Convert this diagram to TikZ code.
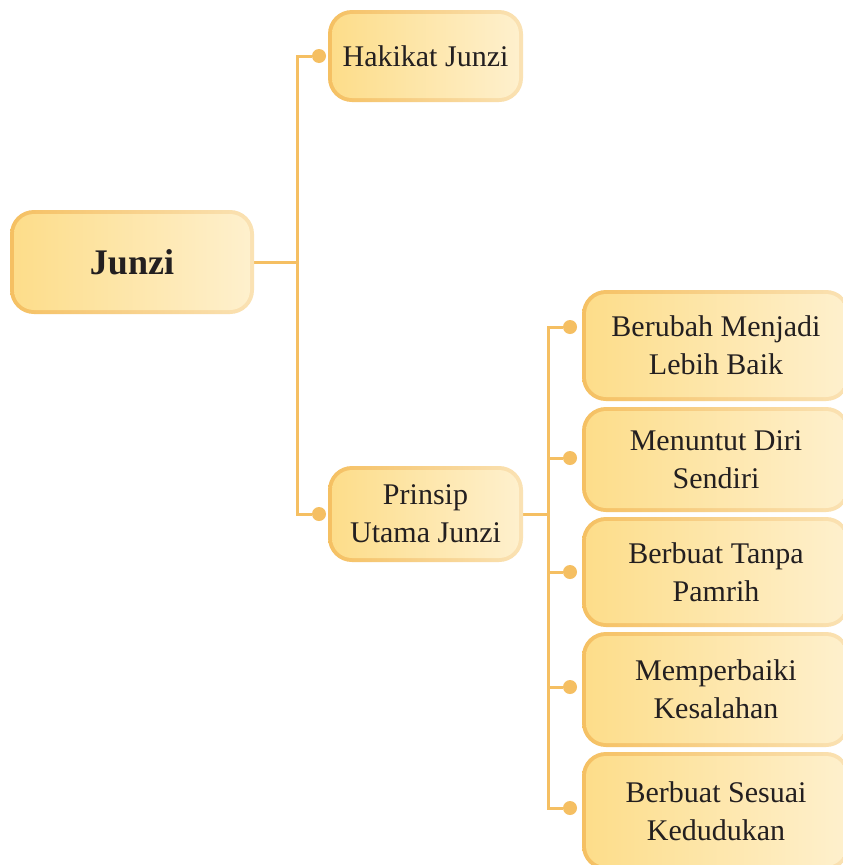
\documentclass[tikz,border=0pt]{standalone}
\usepackage{fontspec}
\setmainfont{Liberation Serif}
\usetikzlibrary{backgrounds,calc}
\definecolor{lineC}{HTML}{F5BF62}
\definecolor{fillL}{HTML}{FDDD8A}
\definecolor{fillM}{HTML}{FDE39F}
\definecolor{fillR}{HTML}{FEF0CD}
\definecolor{bordL}{HTML}{F5C062}
\definecolor{bordM}{HTML}{F7CD80}
\definecolor{bordR}{HTML}{FAE2B4}
\definecolor{txt}{HTML}{231F20}
\tikzset{
  box/.style={rectangle, rounded corners=20pt, inner sep=0pt, outer sep=0pt,
    left color=fillL, middle color=fillM, right color=fillR, text=txt, align=center,
    font=\fontsize{30}{38}\selectfont},
  conn/.style={draw=lineC, line width=3pt},
  dot/.style={circle, fill=lineC, minimum size=14pt, inner sep=0pt},
}
\newcommand\ringbox[1]{\shade[left color=bordL, middle color=bordM, right color=bordR, rounded corners=24pt]
  ($(#1.north west)+(-4,-4)$) rectangle ($(#1.south east)+(4,4)$);}
\begin{document}
\begin{tikzpicture}[x=1pt,y=-1pt]
\useasboundingbox (0,0) rectangle (843,865);
% nodes
\node[box, minimum width=236pt, minimum height=96pt, font=\fontsize{36}{40}\selectfont\bfseries] (junzi) at (132,262) {Junzi};
\node[box, minimum width=187pt, minimum height=84pt] (hak) at (425.5,56) {Hakikat Junzi};
\node[box, minimum width=187pt, minimum height=88pt] (pri) at (425.5,514) {Prinsip\\Utama Junzi};
\node[box, minimum width=260pt, minimum height=103pt] (r1) at (716,345.5) {Berubah Menjadi\\Lebih Baik};
\node[box, minimum width=260pt, minimum height=97pt] (r2) at (716,459.5) {Menuntut Diri\\Sendiri};
\node[box, minimum width=260pt, minimum height=102pt] (r3) at (716,572) {Berbuat Tanpa\\Pamrih};
\node[box, minimum width=260pt, minimum height=107pt] (r4) at (716,689.5) {Memperbaiki\\Kesalahan};
\node[box, minimum width=260pt, minimum height=110pt] (r5) at (716,811) {Berbuat Sesuai\\Kedudukan};
% dots
\node[dot] (d1) at (319,56) {};
\node[dot] (d2) at (319,514) {};
\node[dot] (e1) at (570,327) {};
\node[dot] (e2) at (570,458) {};
\node[dot] (e3) at (570,572) {};
\node[dot] (e4) at (570,687) {};
\node[dot] (e5) at (570,808) {};
\coordinate (jb) at (297,262);
\coordinate (pb) at (548,514);
\begin{scope}[on background layer]
  \fill[white] (0,0) rectangle (843,865);
  \draw[conn] (junzi.east) -- (jb);
  \draw[conn] (d1) -| (jb) |- (d2);
  \draw[conn] (pri.east) -- (pb);
  \draw[conn] (e1) -| (pb) |- (e5);
  \draw[conn] (e2) -- (e2 -| pb);
  \draw[conn] (e3) -- (e3 -| pb);
  \draw[conn] (e4) -- (e4 -| pb);
  \ringbox{junzi}
  \ringbox{hak}
  \ringbox{pri}
  \ringbox{r1}
  \ringbox{r2}
  \ringbox{r3}
  \ringbox{r4}
  \ringbox{r5}
\end{scope}
\end{tikzpicture}
\end{document}
